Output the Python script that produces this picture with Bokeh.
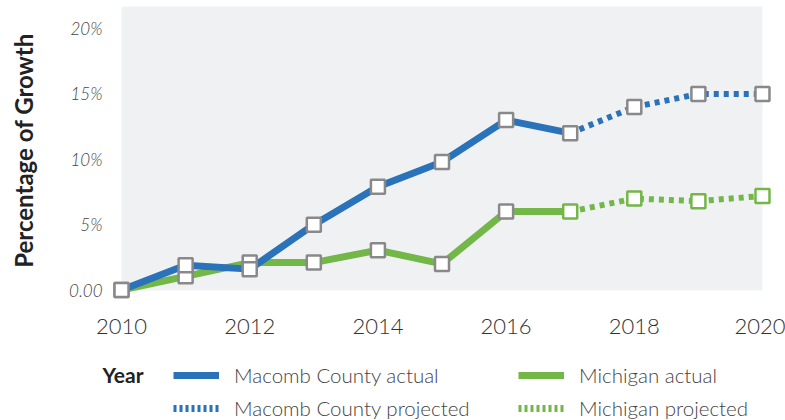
from bokeh.plotting import figure
from bokeh.layouts import column
from bokeh.models import (Range1d, FixedTicker, Legend, LegendItem, Label,
                          ColumnDataSource, BoxAnnotation)
from bokeh.embed import file_html
from bokeh.resources import INLINE

years = [2010, 2011, 2012, 2013, 2014, 2015, 2016, 2017, 2018, 2019, 2020]
macomb = [0.0, 1.9, 1.6, 5.0, 7.9, 9.8, 13.0, 12.0, 14.0, 15.0, 15.0]
michigan = [0.0, 1.05, 2.1, 2.1, 3.05, 2.0, 6.0, 6.0, 7.0, 6.8, 7.2]
last_actual_year = 2017
x_ticks = [2010, 2012, 2014, 2016, 2018, 2020]
y_ticks = [0, 5, 10, 15, 20]
y_tick_labels = {0: "0.00", 5: "5%", 10: "10%", 15: "15%", 20: "20%"}
series_names = ["Macomb County actual", "Macomb County projected",
                "Michigan actual", "Michigan projected"]
legend_title = "Year"

BLUE = "#2a72b9"
GREEN = "#73b748"
GRAY = "#898989"
FONT = "Lato Light"

k = years.index(last_actual_year)

# frame spans x 110..775, y 0..300 ; gray panel spans 2010..2020, -0.04..21.7
p = figure(width=785, height=340, output_backend="svg", toolbar_location=None,
           x_range=Range1d(2009.828, 2020.203), y_range=Range1d(-0.80, 22.15),
           min_border_left=110, min_border_right=10, min_border_top=0,
           min_border_bottom=40)
p.frame_align = False
p.background_fill_color = "white"
p.border_fill_color = "white"
p.outline_line_color = None

p.add_layout(BoxAnnotation(left=years[0], right=years[-1], bottom=-0.04, top=21.7,
                           fill_color="#f0f1f3", fill_alpha=1, line_color=None,
                           level="underlay"))

p.xgrid.visible = False
p.ygrid.ticker = FixedTicker(ticks=y_ticks)
p.ygrid.grid_line_color = "white"
p.ygrid.grid_line_width = 4

xa = p.xaxis[0]
xa.ticker = FixedTicker(ticks=x_ticks)
xa.axis_line_color = None
xa.major_tick_line_color = None
xa.minor_tick_line_color = None
xa.major_label_standoff = 12
xa.major_label_text_font = FONT
xa.major_label_text_font_size = "22px"
xa.major_label_text_color = "#333333"

ya = p.yaxis[0]
ya.ticker = FixedTicker(ticks=y_ticks)
ya.major_label_overrides = y_tick_labels
ya.axis_line_color = None
ya.major_tick_line_color = None
ya.minor_tick_line_color = None
ya.major_label_standoff = 2
ya.major_label_text_font = FONT
ya.major_label_text_font_style = "italic"
ya.major_label_text_font_size = "17px"
ya.major_label_text_color = "#444444"
ya.axis_label = "Percentage of Growth"
ya.axis_label_text_font = "Lato"
ya.axis_label_text_font_style = "bold"
ya.axis_label_text_font_size = "24px"
ya.axis_label_text_color = "#222222"
ya.axis_label_standoff = 28

# lines
p.line(years[:k + 1], michigan[:k + 1], line_color=GREEN, line_width=7)
p.line(years[k:], michigan[k:], line_color=GREEN, line_width=6, line_dash="5 5")
p.line(years[:k + 1], macomb[:k + 1], line_color=BLUE, line_width=7)
p.line(years[k:], macomb[k:], line_color=BLUE, line_width=6, line_dash="5 5")

# markers
p.scatter(years[:k], michigan[:k], marker="square", size=14, fill_color="white",
          line_color=GRAY, line_width=2.5)
p.scatter(years[k:], michigan[k:], marker="square", size=14, fill_color="white",
          line_color=GREEN, line_width=2.5)
p.scatter(years, macomb, marker="square", size=14, fill_color="white",
          line_color=GRAY, line_width=2.5)

# legend figure
lg = figure(width=785, height=80, output_backend="svg", toolbar_location=None,
            x_range=Range1d(0, 1), y_range=Range1d(0, 1),
            min_border=0, min_border_left=0, min_border_right=0,
            min_border_top=0, min_border_bottom=0)
lg.frame_align = False
lg.axis.visible = False
lg.grid.visible = False
lg.outline_line_color = None
lg.background_fill_color = "white"
lg.border_fill_color = "white"

NAN = float("nan")


def proxy(color, dash):
    src = ColumnDataSource(data=dict(x=[NAN], y=[NAN]))
    return lg.line("x", "y", source=src, line_color=color, line_width=7, line_dash=dash)


r1 = proxy(BLUE, "solid")
r2 = proxy(BLUE, "3 3")
r3 = proxy(GREEN, "solid")
r4 = proxy(GREEN, "3 3")

legend = Legend(items=[LegendItem(label=series_names[0], renderers=[r1]),
                       LegendItem(label=series_names[1], renderers=[r2]),
                       LegendItem(label=series_names[2], renderers=[r3]),
                       LegendItem(label=series_names[3], renderers=[r4])],
                location=(173, 0), ncols=2,
                glyph_width=46, glyph_height=20, label_height=20,
                label_width=275, label_standoff=15, spacing=9,
                padding=0, margin=0,
                border_line_alpha=0, background_fill_alpha=0,
                label_text_font=FONT, label_text_font_size="20.5px",
                label_text_color="#444444")
lg.add_layout(legend, "center")

lg.add_layout(Label(x=143, y=46, x_units="screen", y_units="screen", text=legend_title,
                    text_align="right", text_baseline="middle",
                    text_font="Lato", text_font_style="bold",
                    text_font_size="21px", text_color="#222222"))

layout = column(p, lg, spacing=0)
open("out.html", "w").write(file_html(layout, INLINE))
